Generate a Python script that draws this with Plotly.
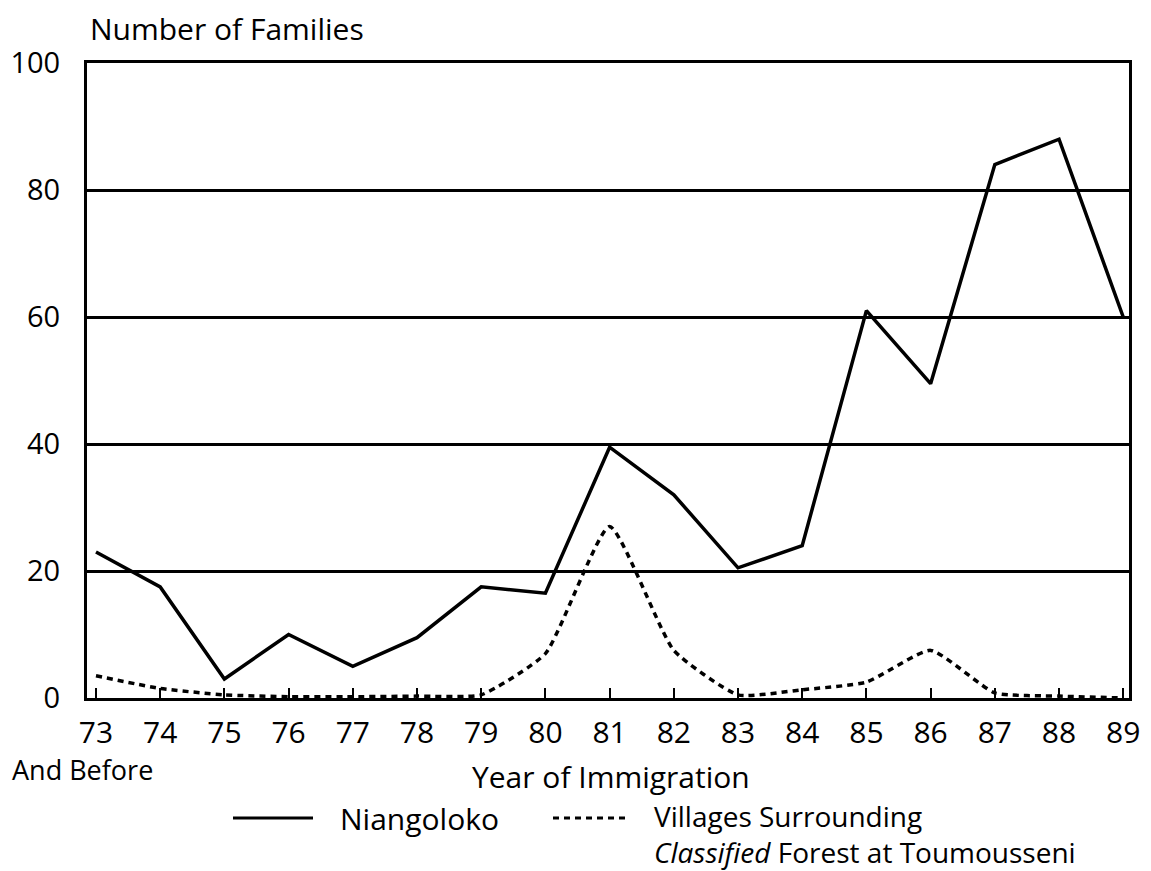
import plotly.graph_objects as go

years = [73, 74, 75, 76, 77, 78, 79, 80, 81, 82, 83, 84, 85, 86, 87, 88, 89]
tick_labels = [str(y) for y in years]
niangoloko = [23, 17.5, 3, 10, 5, 9.5, 17.5, 16.5, 39.5, 32, 20.5, 24, 61, 49.5, 84, 88, 60]
villages = [3.5, 1.5, 0.5, 0.2, 0.2, 0.3, 0.5, 7, 27, 7.5, 0.5, 1.3, 2.5, 7.5, 0.8, 0.3, 0]

FONT = "Open Sans"
# page body has an 8px margin, so the figure is a bit smaller than the window
W, H = 1143, 863
L, R, T, B = 79, 22, 55, 173
PW, PH = W - L - R, H - T - B


# helpers: page pixel -> paper coordinate
def px(x):
    return (x - 8 - L) / PW


def py(y):
    return (H + 8 - B - y) / PH


fig = go.Figure()

fig.add_trace(go.Scatter(
    x=years, y=niangoloko, mode="lines", name="Niangoloko",
    line=dict(color="black", width=3.5),
))
fig.add_trace(go.Scatter(
    x=years, y=villages, mode="lines",
    name="Villages Surrounding Classified Forest at Toumousseni",
    line=dict(color="black", width=3.5, dash="6px,5px", shape="spline", smoothing=0.5),
))

fig.update_layout(
    width=W, height=H,
    margin=dict(l=L, r=R, t=T, b=B, autoexpand=False),
    paper_bgcolor="white", plot_bgcolor="white",
    showlegend=False,
    font=dict(family=FONT, size=30, color="black"),
    xaxis=dict(
        range=[72.86, 89.09],
        tickvals=years, ticktext=tick_labels,
        ticks="inside", ticklen=10, tickwidth=2, tickcolor="black",
        showgrid=False, zeroline=False,
        showline=True, linecolor="black", linewidth=3, mirror=True,
        ticklabelstandoff=6, automargin=False,
    ),
    yaxis=dict(
        range=[0, 100],
        tickvals=[0, 20, 40, 60, 80, 100],
        tickfont=dict(size=29),
        ticks="", showgrid=True, gridcolor="black", gridwidth=3,
        zeroline=False,
        showline=True, linecolor="black", linewidth=3, mirror=True,
        ticklabelstandoff=18, automargin=False,
    ),
)

# titles and notes
fig.add_annotation(text="Number of Families", xref="paper", yref="paper",
                   x=px(88), y=py(29), xanchor="left", yanchor="middle",
                   showarrow=False, font=dict(size=30))
fig.add_annotation(text="And Before", xref="paper", yref="paper",
                   x=px(10), y=py(770), xanchor="left", yanchor="middle",
                   showarrow=False, font=dict(size=27))
fig.add_annotation(text="Year of Immigration", xref="paper", yref="paper",
                   x=px(611), y=py(776), xanchor="center", yanchor="middle",
                   showarrow=False, font=dict(size=30))

# legend
fig.add_shape(type="line", xref="paper", yref="paper",
              x0=px(233), x1=px(313), y0=py(818), y1=py(818),
              line=dict(color="black", width=3))
fig.add_shape(type="line", xref="paper", yref="paper",
              x0=px(553), x1=px(630), y0=py(818), y1=py(818),
              line=dict(color="black", width=3, dash="6px,5px"))
fig.add_annotation(text="Niangoloko", xref="paper", yref="paper",
                   x=px(338), y=py(818), xanchor="left", yanchor="middle",
                   showarrow=False, font=dict(size=30))
fig.add_annotation(text="Villages Surrounding", xref="paper", yref="paper",
                   x=px(652), y=py(816), xanchor="left", yanchor="middle",
                   showarrow=False, font=dict(size=28))
fig.add_annotation(text="<i>Classified</i> Forest at Toumousseni", xref="paper", yref="paper",
                   x=px(652), y=py(852), xanchor="left", yanchor="middle",
                   showarrow=False, font=dict(size=28))

fig.write_html("out.html")
